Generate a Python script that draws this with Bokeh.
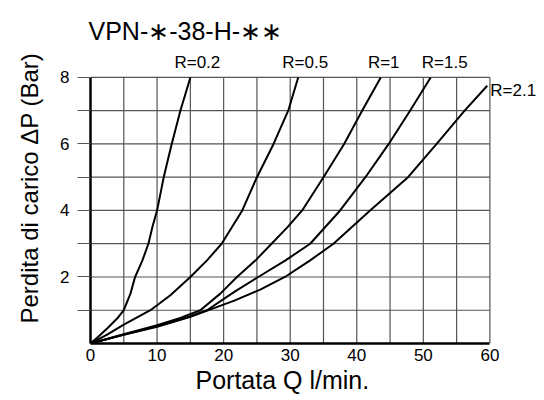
from bokeh.plotting import figure
from bokeh.models import Range1d, FixedTicker, Label, Title
from bokeh.embed import file_html
from bokeh.resources import INLINE

# ---- data ----
r02_x = [0, 1, 2.5, 4, 5, 6, 6.7, 7.8, 8.7, 9.3, 10, 10.5, 11, 11.6, 12.2, 13.5, 15]
r02_y = [0, 0.17, 0.45, 0.75, 1, 1.5, 2, 2.5, 3, 3.5, 4, 4.5, 5, 5.5, 6, 7, 8]

r05_x = [0, 2.5, 5, 9, 12, 15, 17.5, 19.7, 22.8, 25, 27.5, 29.7, 31.2]
r05_y = [0, 0.27, 0.57, 1, 1.45, 2, 2.5, 3, 4, 5, 6, 7, 8]

r1_x = [0, 5, 10, 13.5, 16.5, 19.5, 22, 24.8, 27.2, 29.6, 31.8, 35, 38.1, 40.8, 43.6]
r1_y = [0, 0.28, 0.55, 0.77, 1, 1.5, 2, 2.5, 3, 3.5, 4, 5, 6, 7, 8]

r15_x = [0, 5, 10, 14, 17.5, 21.6, 25.2, 29.3, 33, 37.5, 41.3, 44.8, 48, 51.1]
r15_y = [0, 0.27, 0.52, 0.75, 1, 1.55, 2, 2.5, 3, 4, 5, 6, 7, 8]

r21_x = [0, 5, 10, 15, 21.6, 25.5, 29.2, 33, 36.5, 42, 47.7, 52, 56.2, 59.6]
r21_y = [0, 0.26, 0.5, 0.8, 1.29, 1.62, 2, 2.5, 3, 4, 5, 6, 7, 7.75]

series_names = ["R=0.2", "R=0.5", "R=1", "R=1.5", "R=2.1"]
series_x = [r02_x, r05_x, r1_x, r15_x, r21_x]
series_y = [r02_y, r05_y, r1_y, r15_y, r21_y]

x_ticks = [0, 10, 20, 30, 40, 50, 60]
x_grid = [5, 10, 15, 20, 25, 30, 35, 40, 45, 50, 55, 60]
y_ticks = [2, 4, 6, 8]
y_minor = [1, 3, 5, 7]
y_grid = [1, 2, 3, 4, 5, 6, 7, 8]
x_max = 60
y_max = 8

title_text = "VPN-\u2217-38-H-\u2217\u2217"
x_label = "Portata Q l/min."
y_label = "Perdita di carico \u0394P (Bar)"

# ---- style ----
FONT = "Liberation Sans"
GRID = "#555555"
label_style = [  # (x_offset, y_offset, align, baseline)
    (7, 5, "center", "bottom"),
    (7, 5, "center", "bottom"),
    (3, 5, "center", "bottom"),
    (14, 5, "center", "bottom"),
    (3, -5, "left", "middle"),
]

p = figure(width=544, height=400, x_range=Range1d(0, 68.2), y_range=Range1d(0, 8.99),
           output_backend="svg", toolbar_location=None,
           min_border_left=90, min_border_right=0, min_border_top=44, min_border_bottom=57)
p.background_fill_color = "white"
p.border_fill_color = "white"
p.outline_line_color = None
p.xgrid.visible = False
p.ygrid.visible = False

# grid lines (bounded to the 0..60 x 0..8 box)
p.segment(x0=[0] * len(y_grid), x1=[x_max] * len(y_grid), y0=y_grid, y1=y_grid,
          line_color=GRID, line_width=1.2)
p.segment(x0=x_grid, x1=x_grid, y0=[0] * len(x_grid), y1=[y_max] * len(x_grid),
          line_color=GRID, line_width=1.2)

p.title.text = title_text
p.title.align = "left"
p.title.text_font = FONT
p.title.text_font_size = "25px"
p.title.text_font_style = "normal"
p.title.text_color = "black"
p.title.standoff = 0
p.title.offset = -2

xa = p.xaxis[0]
xa.ticker = FixedTicker(ticks=x_ticks)
xa.bounds = (0, x_max)
xa.major_tick_out = 0
xa.major_tick_in = 0
xa.minor_tick_out = 0
xa.minor_tick_in = 0
xa.axis_line_color = "black"
xa.axis_line_width = 2.5
xa.major_label_standoff = 5
xa.major_label_text_font = FONT
xa.major_label_text_font_size = "17px"
xa.major_label_text_color = "black"

ya = p.yaxis[0]
ya.ticker = FixedTicker(ticks=y_ticks, minor_ticks=y_minor)
ya.bounds = (0, y_max)
ya.major_tick_out = 13
ya.major_tick_in = 0
ya.minor_tick_out = 13
ya.minor_tick_in = 0
ya.major_tick_line_color = GRID
ya.minor_tick_line_color = GRID
ya.major_tick_line_width = 1.2
ya.minor_tick_line_width = 1.2
ya.axis_line_color = "black"
ya.axis_line_width = 2.5
ya.major_label_standoff = 8
ya.major_label_text_font = FONT
ya.major_label_text_font_size = "17px"
ya.major_label_text_color = "black"

# axis titles (placed as side titles so they line up with the 0..60 / 0..8 box)
p.add_layout(Title(text=x_label, align="left", offset=105, standoff=0,
                   text_font=FONT, text_font_size="25px", text_font_style="normal",
                   text_color="black"), "below")
p.add_layout(Title(text=y_label, align="left", offset=20, standoff=25,
                   vertical_align="top",
                   text_font=FONT, text_font_size="24px", text_font_style="normal",
                   text_color="black"), "left")

for name, xs, ys, st in zip(series_names, series_x, series_y, label_style):
    p.line(xs, ys, line_color="black", line_width=2)
    p.add_layout(Label(x=xs[-1], y=ys[-1], x_offset=st[0], y_offset=st[1], text=name,
                       text_align=st[2], text_baseline=st[3], text_font=FONT,
                       text_font_size="17px", text_color="black"))

open("out.html", "w").write(file_html(p, INLINE))
